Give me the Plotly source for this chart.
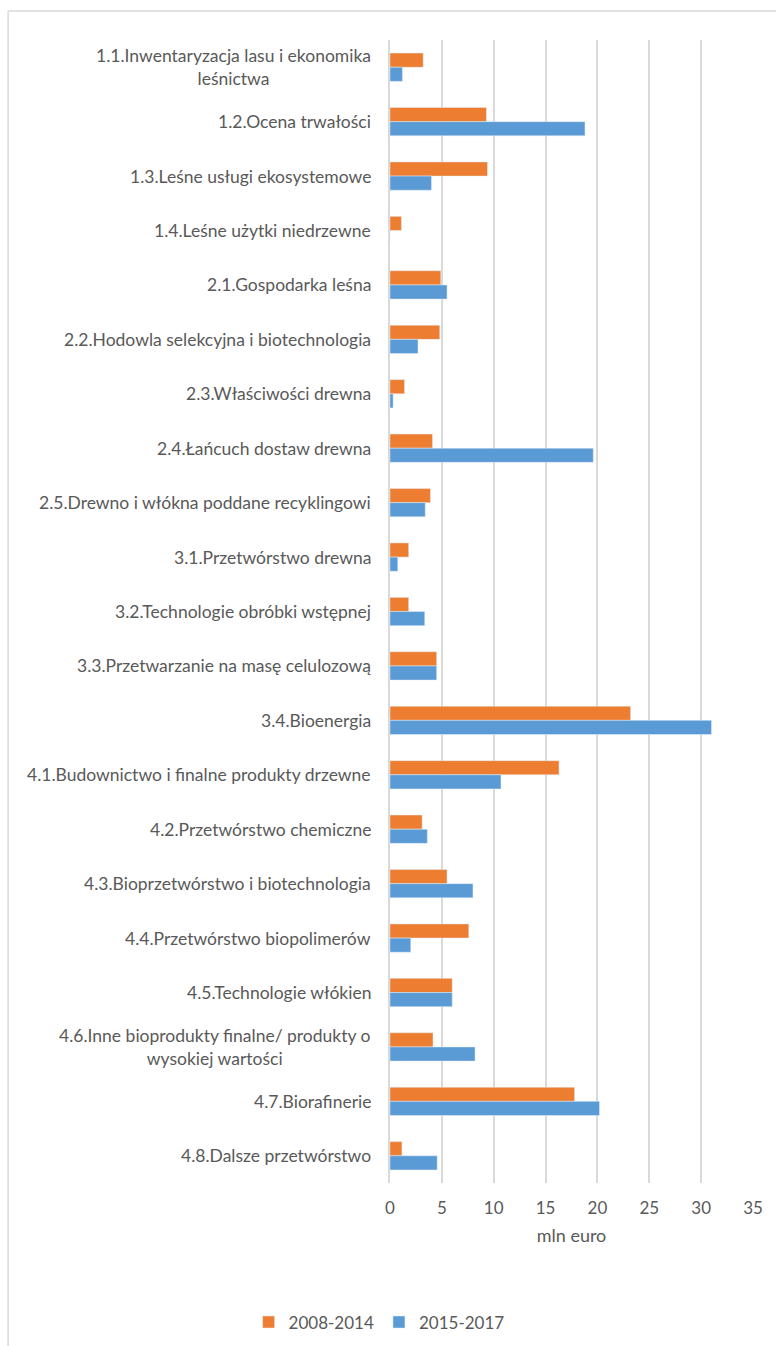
import plotly.graph_objects as go

kategorie = [
    "1.1.Inwentaryzacja lasu i ekonomika<br>leśnictwa",
    "1.2.Ocena trwałości",
    "1.3.Leśne usługi ekosystemowe",
    "1.4.Leśne użytki niedrzewne",
    "2.1.Gospodarka leśna",
    "2.2.Hodowla selekcyjna i biotechnologia",
    "2.3.Właściwości drewna",
    "2.4.Łańcuch dostaw drewna",
    "2.5.Drewno i włókna poddane recyklingowi",
    "3.1.Przetwórstwo drewna",
    "3.2.Technologie obróbki wstępnej",
    "3.3.Przetwarzanie na masę celulozową",
    "3.4.Bioenergia",
    "4.1.Budownictwo i finalne produkty drzewne",
    "4.2.Przetwórstwo chemiczne",
    "4.3.Bioprzetwórstwo i biotechnologia",
    "4.4.Przetwórstwo biopolimerów",
    "4.5.Technologie włókien",
    "4.6.Inne bioprodukty finalne/ produkty o<br>wysokiej wartości",
    "4.7.Biorafinerie",
    "4.8.Dalsze przetwórstwo",
]

okres_2008_2014 = [3.2, 9.3, 9.4, 1.1, 4.9, 4.8, 1.4, 4.1, 3.9, 1.8, 1.8,
                   4.5, 23.2, 16.3, 3.1, 5.5, 7.6, 6.0, 4.15, 17.8, 1.15]
okres_2015_2017 = [1.2, 18.8, 4.0, 0.0, 5.5, 2.7, 0.3, 19.6, 3.4, 0.75, 3.35,
                   4.5, 31.0, 10.7, 3.6, 8.0, 2.0, 6.0, 8.2, 20.2, 4.55]

ticki_x = [0, 5, 10, 15, 20, 25, 30, 35]

szary = "#595959"
font = "Lato, 'Open Sans', sans-serif"

fig = go.Figure()
fig.add_trace(go.Bar(y=kategorie, x=okres_2008_2014, orientation="h",
                     name="2008-2014", marker=dict(color="#ED7D31")))
fig.add_trace(go.Bar(y=kategorie, x=okres_2015_2017, orientation="h",
                     name="2015-2017", marker=dict(color="#5B9BD5")))

# etykiety kategorii jako adnotacje (wyśrodkowane wiersze)
for k in kategorie:
    fig.add_annotation(x=0, xref="paper", y=k, yref="y", text=k,
                       showarrow=False, xanchor="right", xshift=-17,
                       align="center", font=dict(size=17.5, color=szary, family=font))

# ramka wykresu (przycięta z prawej i z dołu)
fig.add_shape(type="line", xref="paper", yref="paper", x0=-1.052, x1=1.1,
              y0=1.0254, y1=1.0254, line=dict(color="#d9d9d9", width=1.5))
fig.add_shape(type="line", xref="paper", yref="paper", x0=-1.052, x1=-1.052,
              y0=1.0254, y1=-0.2, line=dict(color="#d9d9d9", width=1.5))

fig.update_layout(
    width=776, height=1346,
    margin=dict(l=390, r=23, t=40, b=163, autoexpand=False),
    paper_bgcolor="white", plot_bgcolor="white",
    barmode="group", bargap=0.48, bargroupgap=0,
    font=dict(family=font, color=szary, size=17),
    showlegend=True,
    legend=dict(orientation="h", x=-0.03, xanchor="center", y=-0.122, yanchor="middle",
                font=dict(size=17, color=szary), traceorder="normal"),
)
fig.update_xaxes(range=[0, 35], tickvals=ticki_x, showgrid=True, gridcolor="#d9d9d9",
                 gridwidth=1.5, zeroline=False, showline=False, ticks="",
                 automargin=False,
                 tickfont=dict(size=17, color=szary), ticklabelstandoff=13,
                 title=dict(text="mln euro", font=dict(size=18, color=szary), standoff=12))
fig.update_yaxes(autorange="reversed", showticklabels=False, ticks="", automargin=False,
                 showline=True, linecolor="#d9d9d9", linewidth=1.5, showgrid=False)

fig.write_html("out.html", config={"displayModeBar": False},
               post_script="document.body.style.margin='0';")
